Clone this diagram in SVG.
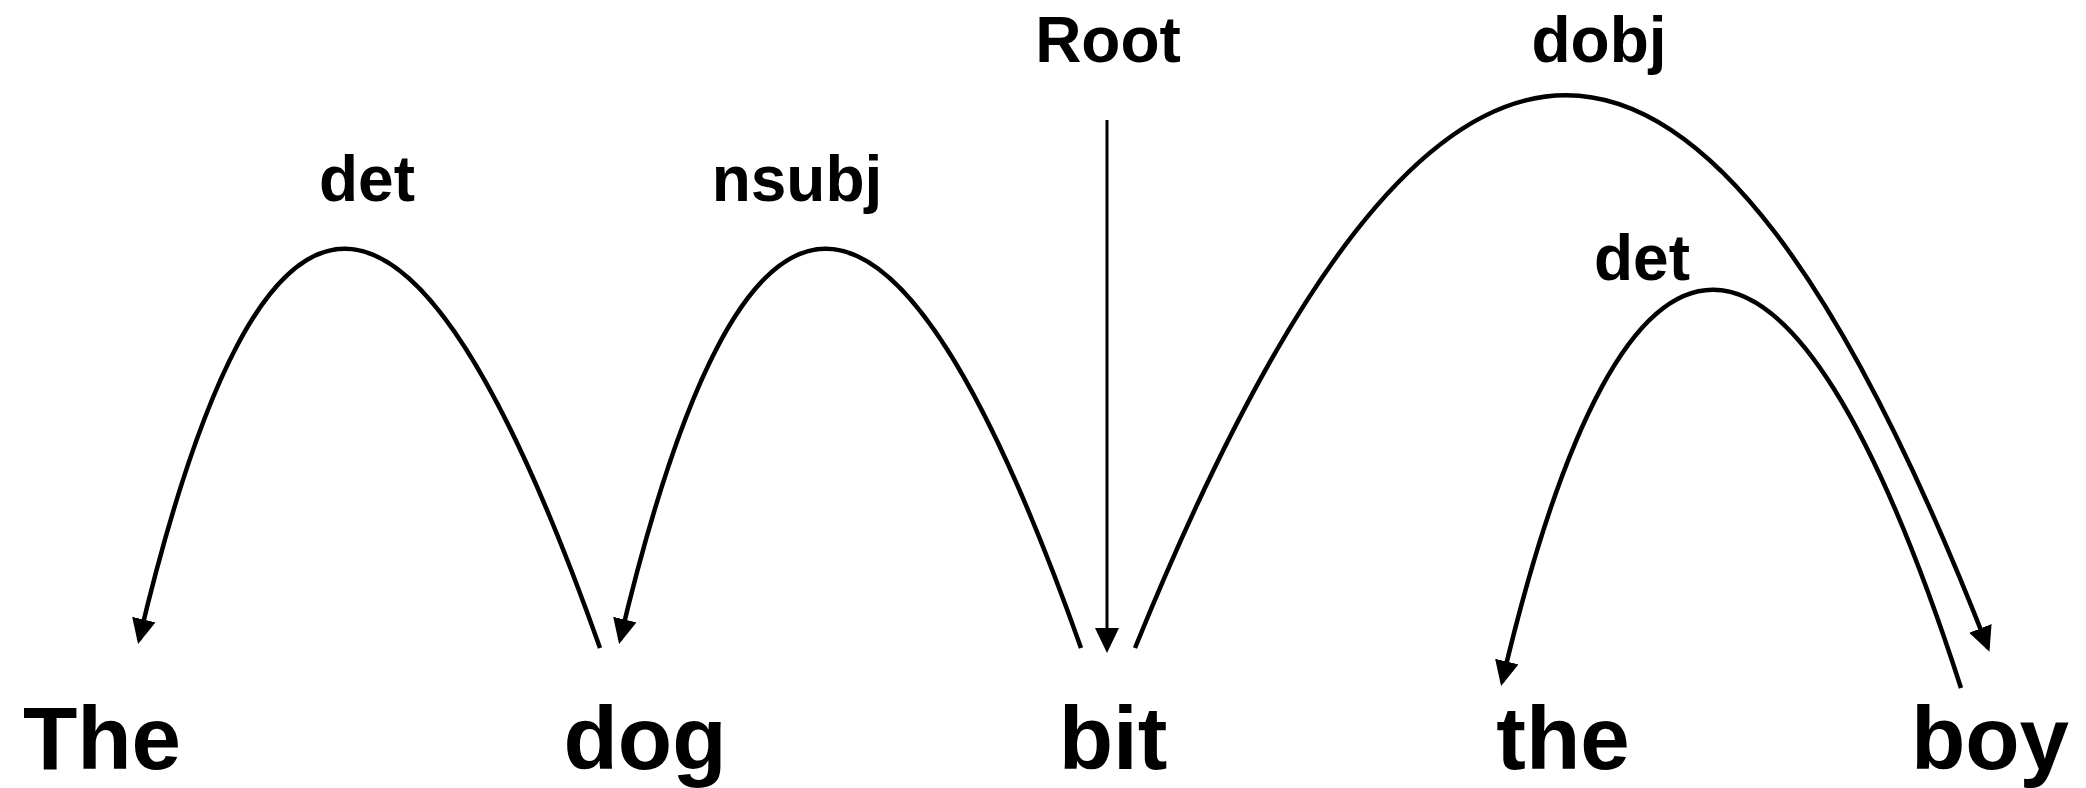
<svg xmlns="http://www.w3.org/2000/svg" width="2086" height="788" viewBox="0 0 2086 788">
<style>
.word{font-family:"Liberation Sans",Arial,sans-serif;font-weight:bold;font-size:89px;fill:#000;text-anchor:middle}
.lbl{font-family:"Liberation Sans",Arial,sans-serif;font-weight:bold;font-size:64px;fill:#000;text-anchor:middle}
.arc{fill:none;stroke:#000;stroke-width:4.5}
.root{fill:none;stroke:#000;stroke-width:3}
</style>
<defs>
<marker id="ah" markerUnits="userSpaceOnUse" markerWidth="28" markerHeight="26" refX="21" refY="12" orient="auto" viewBox="0 0 28 26">
<path d="M0,0 L25,12 L0,24 z" fill="#000"/>
</marker>
</defs>
<rect width="2086" height="788" fill="#fff"/>
<g id="connectors">
<path id="e-det1" class="arc" d="M600,648 C412,117 263,117 139,640" marker-end="url(#ah)"/>
<path id="e-nsubj" class="arc" d="M1081,648 C893,117 744,117 620,640" marker-end="url(#ah)"/>
<path id="e-root" class="root" d="M1107,120 L1107,649" marker-end="url(#ah)"/>
<path id="e-dobj" class="arc" d="M1135,648 C1434,-89 1701,-89 1988,648" marker-end="url(#ah)"/>
<path id="e-det2" class="arc" d="M1961,688 C1790,158 1625,158 1502,682" marker-end="url(#ah)"/>
</g>
<g id="labels">
<text class="lbl" x="367" y="201">det</text>
<text class="lbl" x="797" y="201">nsubj</text>
<text class="lbl" x="1108" y="62">Root</text>
<text class="lbl" x="1599" y="62">dobj</text>
<text class="lbl" x="1642" y="280">det</text>
</g>
<g id="n-The"><text class="word" x="102" y="769">The</text></g>
<g id="n-dog"><text class="word" x="645" y="769">dog</text></g>
<g id="n-bit"><text class="word" x="1113" y="769">bit</text></g>
<g id="n-the"><text class="word" x="1563" y="769">the</text></g>
<g id="n-boy"><text class="word" x="1990" y="769">boy</text></g>
</svg>
